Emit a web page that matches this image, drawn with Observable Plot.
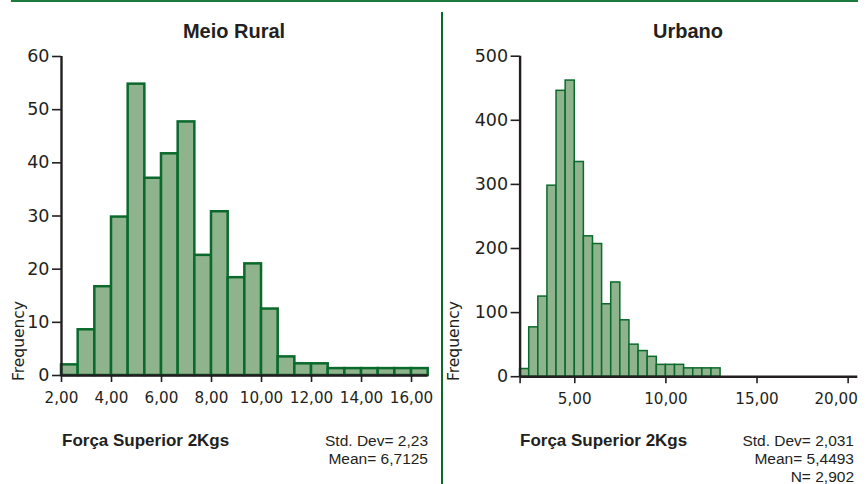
<!DOCTYPE html>
<html>
<head>
<meta charset="utf-8">
<script src="https://cdn.jsdelivr.net/npm/d3@7"></script>
<script src="https://cdn.jsdelivr.net/npm/@observablehq/plot@0.6"></script>
<style>
  html, body { margin: 0; padding: 0; background: #ffffff; }
  #wrap { position: relative; width: 868px; height: 484px; overflow: hidden; background: #fff; }
  .panel { position: absolute; top: 0; }
  #overlay { position: absolute; left: 0; top: 0; }
  .ttl { font-family: "Liberation Sans", Arial, sans-serif; font-weight: bold; font-size: 20px; fill: #231f20; }
  .xl { font-family: "Liberation Sans", Arial, sans-serif; font-weight: bold; font-size: 17px; fill: #231f20; }
  .st { font-family: "Liberation Sans", Arial, sans-serif; font-size: 15.5px; fill: #231f20; }
  .yl { font-family: "DejaVu Sans", sans-serif; font-size: 15.5px; fill: #231f20; }
</style>
</head>
<body>
<div id="wrap"></div>
<script>
// ---- data ----
const leftTitle = "Meio Rural";
const rightTitle = "Urbano";
const xAxisLabel = "Força Superior 2Kgs";
const yAxisLabel = "Frequency";

const leftEdges = [2, 2.6667, 3.3333, 4, 4.6667, 5.3333, 6, 6.6667, 7.3333, 8, 8.6667, 9.3333,
  10, 10.6667, 11.3333, 12, 12.6667, 13.3333, 14, 14.6667, 15.3333, 16, 16.6667];
const leftCounts = [2, 8.6, 16.7, 29.8, 54.8, 37.1, 41.7, 47.7, 22.6, 30.8, 18.4, 21, 12.5, 3.5,
  2.2, 2.2, 1.3, 1.3, 1.3, 1.3, 1.3, 1.3];
const leftYTicks = [0, 10, 20, 30, 40, 50, 60];
const leftXTicks = [2, 4, 6, 8, 10, 12, 14, 16];
const leftStats = ["Std. Dev= 2,23", "Mean= 6,7125"];

const rightEdges = [2, 2.5, 3, 3.5, 4, 4.5, 5, 5.5, 6, 6.5, 7, 7.5, 8, 8.5, 9, 9.5, 10, 10.5,
  11, 11.5, 12, 12.5, 13];
const rightCounts = [12, 77, 125, 298, 446, 462, 335, 219, 207, 113, 147, 88, 50, 40, 31, 18.5,
  18.5, 18.5, 13, 13, 13, 13];
const rightYTicks = [0, 100, 200, 300, 400, 500];
const rightXTicks = [2, 5, 10, 15, 20];
const rightStats = ["Std. Dev= 2,031", "Mean= 5,4493", "N= 2,902"];

// ---- build ----
const fillC = "#8fb38c";
const strokeC = "#0a6a2c";
const inkC = "#231f20";
const fmt = d => d.toFixed(2).replace(".", ",");

function rows(edges, counts) {
  return counts.map((v, i) => ({x1: edges[i], x2: edges[i + 1], v}));
}

function panel({edges, counts, yTicks, xTicks, xDomain, yDomain, width, mLeft, mRight, mTop, mBottom, sw, hideFirst, lastShift}) {
  const last = xTicks[xTicks.length - 1];
  const marks = [
    Plot.rectY(rows(edges, counts), {x1: "x1", x2: "x2", y: "v", fill: fillC, stroke: strokeC, strokeWidth: sw}),
    Plot.ruleY([0], {stroke: inkC, strokeWidth: 2.4}),
    Plot.ruleX([xDomain[0]], {stroke: inkC, strokeWidth: 2.4}),
    Plot.axisY({ticks: yTicks, tickSize: 9, tickPadding: 3, fontSize: 17.5, strokeWidth: 1.6, tickFormat: d => String(d), label: null}),
    Plot.axisX({ticks: xTicks, tickSize: 7, tickPadding: 10, fontSize: 15.2, strokeWidth: 1.6,
      tickFormat: d => (hideFirst && d === xTicks[0]) || (lastShift && d === last) ? "" : fmt(d), label: null})
  ];
  if (lastShift) {
    marks.push(Plot.axisX({ticks: [last], tickSize: 0, tickPadding: 17, fontSize: 15.2, dx: -lastShift,
      tickFormat: fmt, label: null}));
  }
  return Plot.plot({
    width, height: 420,
    marginLeft: mLeft, marginRight: mRight, marginTop: mTop, marginBottom: mBottom,
    x: {domain: xDomain},
    y: {domain: yDomain},
    style: {color: inkC, fontFamily: "DejaVu Sans, sans-serif", background: "transparent", overflow: "visible"},
    marks
  });
}

const wrap = document.getElementById("wrap");

const left = panel({edges: leftEdges, counts: leftCounts, yTicks: leftYTicks, xTicks: leftXTicks,
  xDomain: [2, 16.6667], yDomain: [0, 60], width: 440, mLeft: 61, mRight: 12.3, mTop: 56, mBottom: 45, sw: 2.5, hideFirst: false, lastShift: 0});
left.classList.add("panel");
left.style.position = "absolute";
left.style.left = "0px";
wrap.appendChild(left);

const right = panel({edges: rightEdges, counts: rightCounts, yTicks: rightYTicks, xTicks: rightXTicks,
  xDomain: [2, 20.53], yDomain: [0, 500], width: 428, mLeft: 79.6, mRight: 10.7, mTop: 55.7, mBottom: 43.8, sw: 1.5, hideFirst: true, lastShift: 12});
right.classList.add("panel");
right.style.position = "absolute";
right.style.left = "440px";
wrap.appendChild(right);

// ---- frame lines and texts ----
const NS = "http://www.w3.org/2000/svg";
const ov = document.createElementNS(NS, "svg");
ov.setAttribute("id", "overlay");
ov.setAttribute("width", 868);
ov.setAttribute("height", 484);
function el(tag, attrs, text) {
  const e = document.createElementNS(NS, tag);
  for (const k in attrs) e.setAttribute(k, attrs[k]);
  if (text != null) e.textContent = text;
  ov.appendChild(e);
  return e;
}
el("rect", {x: 11, y: 0, width: 847, height: 2, fill: "#1b7a3e"});
el("rect", {x: 441, y: 12, width: 2, height: 472, fill: strokeC});

el("text", {x: 234, y: 38, "text-anchor": "middle", class: "ttl"}, leftTitle);
el("text", {x: 688, y: 38, "text-anchor": "middle", class: "ttl"}, rightTitle);
el("text", {x: 24, y: 341, "text-anchor": "middle", class: "yl", transform: "rotate(-90 24 341)"}, yAxisLabel);
el("text", {x: 459, y: 341, "text-anchor": "middle", class: "yl", transform: "rotate(-90 459 341)"}, yAxisLabel);
el("text", {x: 62, y: 446, class: "xl"}, xAxisLabel);
el("text", {x: 520, y: 446, class: "xl"}, xAxisLabel);
leftStats.forEach((s, i) => el("text", {x: 428, y: 446 + i * 18, "text-anchor": "end", class: "st"}, s));
rightStats.forEach((s, i) => el("text", {x: 854, y: 446 + i * 18, "text-anchor": "end", class: "st"}, s));
wrap.appendChild(ov);
</script>
</body>
</html>
